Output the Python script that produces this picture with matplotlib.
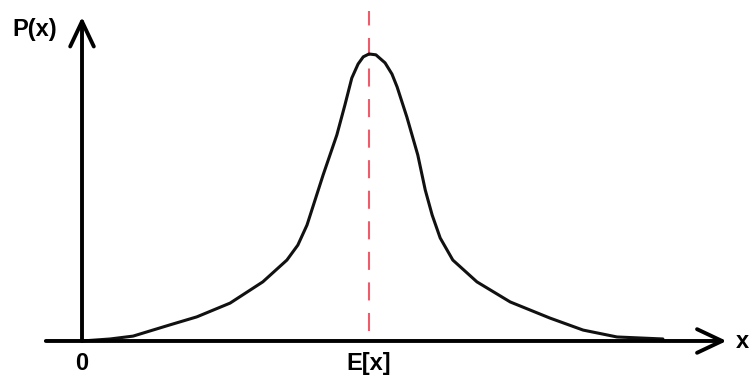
import numpy as np
import matplotlib.pyplot as plt

# hand drawn density curve, peak at the mean (normalised to 1)
curve_x = [0.0, 0.49, 0.89, 1.53, 2.0, 2.58, 3.15, 3.57, 3.76, 3.92, 4.06,
           4.2, 4.32, 4.44, 4.58, 4.7, 4.81, 4.9, 5.0, 5.12, 5.28, 5.4, 5.49,
           5.66, 5.85, 5.98, 6.1, 6.24, 6.46, 6.88, 7.46, 8.15, 8.73, 9.32,
           10.12]
curve_y = [0.0, 0.007, 0.017, 0.056, 0.084, 0.132, 0.206, 0.282, 0.334, 0.404,
           0.491, 0.578, 0.648, 0.718, 0.822, 0.916, 0.965, 0.99, 1.0, 0.997,
           0.969, 0.93, 0.885, 0.78, 0.648, 0.526, 0.439, 0.359, 0.282, 0.206,
           0.136, 0.08, 0.038, 0.014, 0.007]
mean_x = 5.0
tick_pos = [0.0, mean_x]
tick_text = ["0", "E[x]"]

plt.rcParams['font.family'] = ['Liberation Sans', 'DejaVu Sans']
plt.rcParams['lines.scale_dashes'] = False

fig = plt.figure(figsize=(7.51, 3.76), dpi=100)
ax = fig.add_axes([0, 0, 1, 1])
ax.set_xlim(-1.4286, 11.655)
ax.set_ylim(-0.122, 1.188)
ax.axis("off")

# axes with open arrow heads
arrow = dict(arrowstyle="->,head_length=1.8,head_width=0.85", lw=2.8,
             color="black", shrinkA=0, shrinkB=0)
ax.annotate("", xy=(11.23, 0), xytext=(-0.63, 0), arrowprops=arrow)
ax.annotate("", xy=(0, 1.129), xytext=(0, 0), arrowprops=arrow)

# mean line
ax.plot([mean_x, mean_x], [0.035, 1.15], color="#ee5c6c", lw=1.5,
        dashes=(13, 9))

# the curve
ax.plot(curve_x, curve_y, color="#111111", lw=2.2, solid_capstyle="round",
        solid_joinstyle="round")

# labels
for p, t in zip(tick_pos, tick_text):
    ax.text(p, -0.077, t, ha="center", va="center", fontsize=17,
            fontweight="bold")
ax.text(-0.82, 1.084, "P(x)", ha="center", va="center", fontsize=17,
        fontweight="bold")
ax.text(11.5, -0.003, "x", ha="center", va="center", fontsize=17,
        fontweight="bold")

fig.savefig("out.png", dpi=100)
